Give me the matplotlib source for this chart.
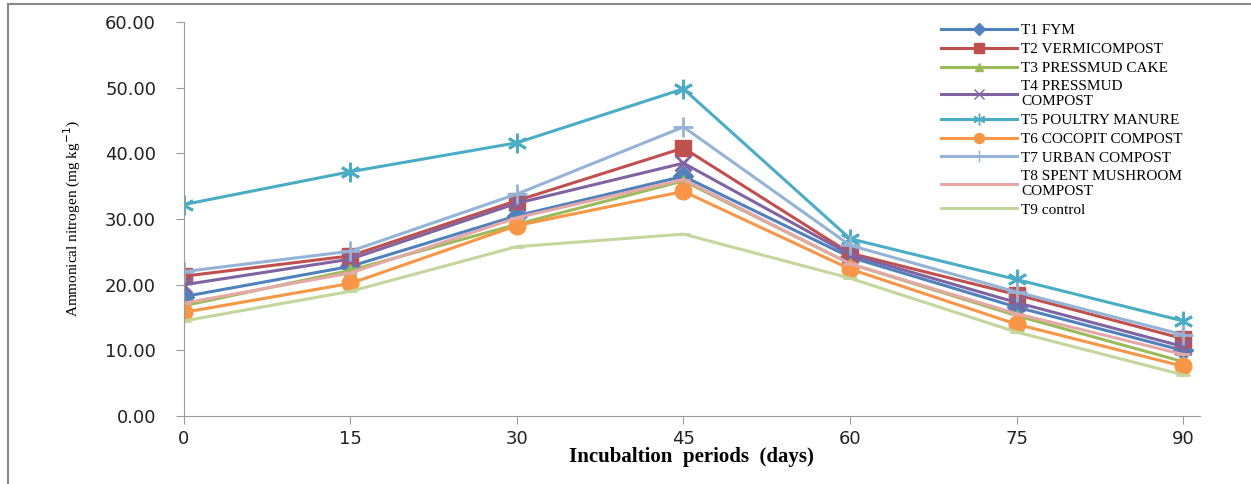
import numpy as np
import matplotlib
matplotlib.use('Agg')
from matplotlib import pyplot as plt
from matplotlib.lines import Line2D

days = [0, 15, 30, 45, 60, 75, 90]

t1 = [18.2, 22.8, 30.5, 36.5, 24.2, 16.6, 10.0]
t2 = [21.3, 24.4, 32.8, 40.8, 24.8, 18.5, 11.8]
t3 = [16.8, 22.2, 29.2, 35.8, 23.2, 15.3, 8.3]
t4 = [20.0, 23.9, 32.4, 38.5, 24.6, 17.3, 10.6]
t5 = [32.2, 37.2, 41.6, 49.8, 27.0, 20.8, 14.5]
t6 = [15.8, 20.2, 29.0, 34.2, 22.4, 14.0, 7.6]
t7 = [22.0, 25.1, 33.8, 44.0, 26.0, 18.9, 12.4]
t8 = [17.2, 21.8, 30.2, 36.0, 23.2, 15.6, 9.4]
t9 = [14.5, 19.0, 25.8, 27.7, 21.0, 12.8, 6.3]

labels = ['T1 FYM', 'T2 VERMICOMPOST', 'T3 PRESSMUD CAKE', 'T4 PRESSMUD\nCOMPOST',
          'T5 POULTRY MANURE', 'T6 COCOPIT COMPOST', 'T7 URBAN COMPOST',
          'T8 SPENT MUSHROOM\nCOMPOST', 'T9 control']
colors = ['#4F81BD', '#C0504D', '#9BBB59', '#8064A2', '#4BACC6',
          '#F79646', '#95B3D7', '#E6A8A6', '#C3D69B']
markers = ['D', 's', '^', 'x', (6, 2, 0), 'o', '+', '_', '_']
msizes = [10, 11, 9, 11, 14, 12, 14, 10, 10]

fig = plt.figure(figsize=(12.51, 4.84), dpi=100)
ax = fig.add_axes([0.147, 0.140, 0.812, 0.815])

series = [t1, t2, t3, t4, t5, t6, t7, t8, t9]
for s, lab, c, m, ms in zip(series, labels, colors, markers, msizes):
    thin = m in ('x', '+', '_') or isinstance(m, tuple)
    ax.plot(days, s, color=c, lw=2.2, marker=m, ms=ms, mew=2 if thin else 1,
            mec=c, mfc=c, label=lab)

ax.set_xlim(0, 91.5)
ax.set_ylim(0, 60)
ax.set_xticks(days)
ax.set_yticks(np.arange(0, 61, 10))
ax.set_yticklabels(['%.2f' % v for v in np.arange(0, 61, 10)])
for sp in ['top', 'right']:
    ax.spines[sp].set_visible(False)
for sp in ['left', 'bottom']:
    ax.spines[sp].set_color('#9a9a9a')
ax.tick_params(axis='both', colors='#9a9a9a', length=6, direction='out', labelsize=13,
               labelcolor='#222222')
ax.tick_params(axis='y', pad=14)
ax.tick_params(axis='x', pad=4)

ax.set_ylabel(r'Ammonical nitrogen (mg kg$^{-1}$)', family='Liberation Serif', fontsize=11,
              labelpad=16)
ax.set_xlabel('Incubaltion  periods  (days)', family='Liberation Serif', fontsize=15,
              fontweight='bold', labelpad=-1)

handles = [Line2D([], [], color=c, lw=2.2, marker=m, ms=ms * 0.6, mec=c, mfc=c)
           for c, m, ms in zip(colors, markers, msizes)]
leg = fig.legend(handles, labels, loc='upper left', bbox_to_anchor=(0.741, 0.98),
                 frameon=False, prop={'family': 'Liberation Serif', 'size': 11},
                 handlelength=5.0, handletextpad=0.25, labelspacing=0.34)

# outer grey frame lines
fig.add_artist(Line2D([0.0065, 0.0065], [0, 0.992], color='#888888', lw=1.5, transform=fig.transFigure))
fig.add_artist(Line2D([0.0065, 1], [0.992, 0.992], color='#888888', lw=1.5, transform=fig.transFigure))

fig.savefig('out.png', dpi=100)
